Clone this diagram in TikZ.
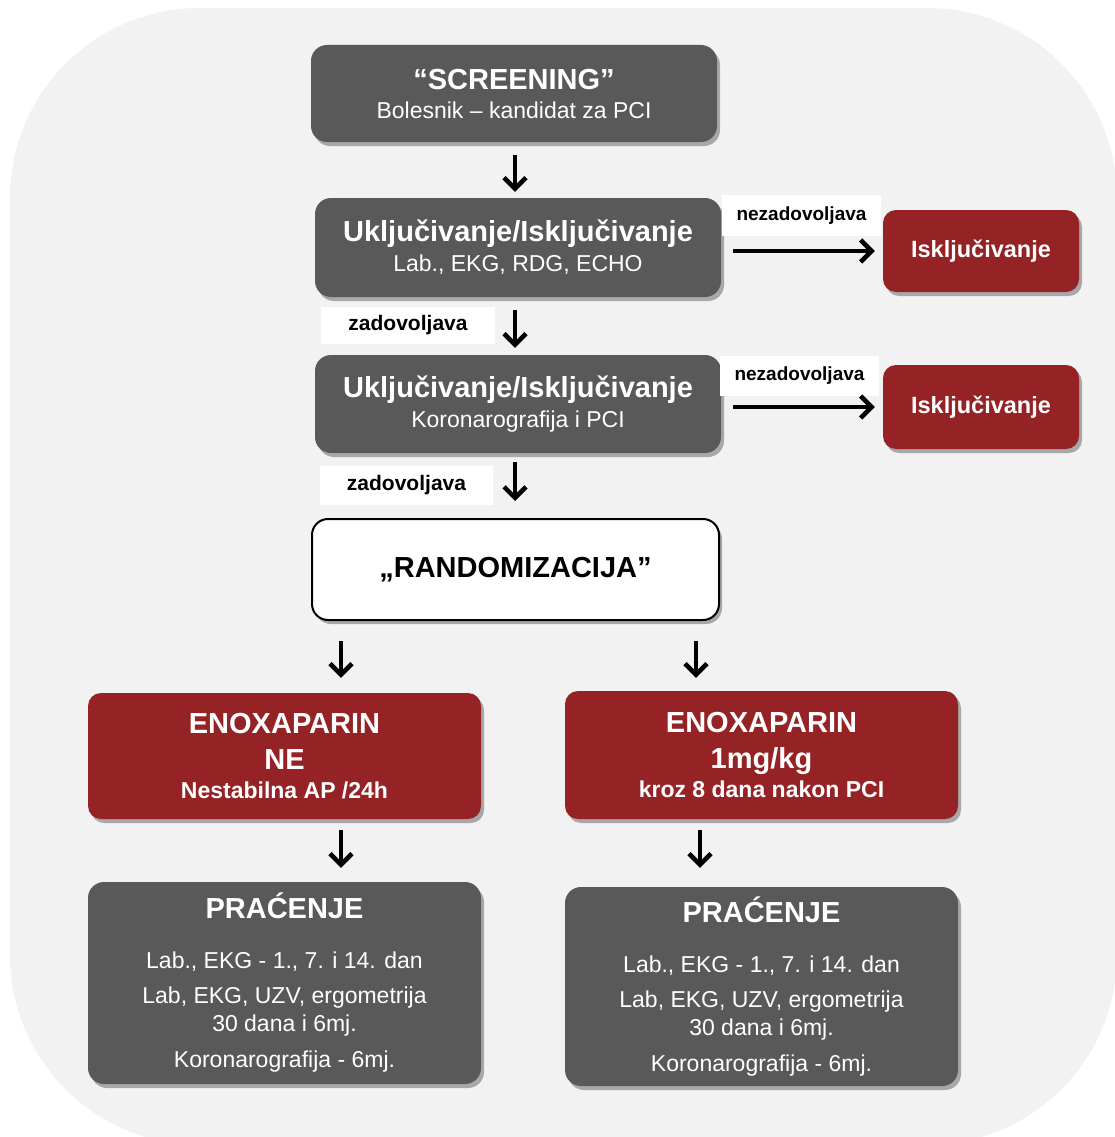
\documentclass[tikz,border=0pt]{standalone}
\usepackage{fontspec}
\setmainfont{Liberation Sans}
\usetikzlibrary{arrows.meta,shadows}
\definecolor{dgrey}{HTML}{595959}
\definecolor{dred}{HTML}{952224}
\definecolor{bggrey}{HTML}{F2F2F2}
\newcommand\bigt[1]{{\bfseries\fontsize{29}{28}\selectfont #1}}
\begin{document}
\begin{tikzpicture}[x=1pt,y=-1pt,
  shad/.style={drop shadow={shadow xshift=3pt,shadow yshift=-4pt,opacity=0.3,fill=black}},
  gbox/.style={shad,rounded corners=16pt,fill=dgrey,text=white,align=center,inner sep=0pt,font=\fontsize{23}{28}\selectfont},
  rbox/.style={gbox,rounded corners=13pt,fill=dred,font=\bfseries\fontsize{23}{28}\selectfont},
  wbox/.style={shad,rounded corners=16pt,fill=white,draw=black,line width=2pt,align=center,inner sep=0pt},
  lbl/.style={fill=white,inner sep=0pt,font=\bfseries\fontsize{19}{20}\selectfont},
  arr/.style={line width=4.5pt,-{Straight Barb[length=11pt,width=22pt]}}]
\useasboundingbox (0,0) rectangle (1115,1137);
\fill[bggrey,rounded corners=190pt] (10,8) rectangle (1117,1145);

\node[gbox,minimum width=406pt,minimum height=97pt] (scr) at (514,93.5)
  {\bigt{“SCREENING”}\\[1pt] Bolesnik – kandidat za PCI};
\node[gbox,minimum width=406pt,minimum height=99pt] (b2) at (518,247.5)
  {\bigt{Uključivanje/Isključivanje}\\[2pt] Lab., EKG, RDG, ECHO};
\node[gbox,minimum width=406pt,minimum height=98pt] (b3) at (518,404)
  {\bigt{Uključivanje/Isključivanje}\\[2pt] Koronarografija i PCI};
\node[rbox,minimum width=196pt,minimum height=82pt,font=\bfseries\fontsize{23.5}{28}\selectfont] (ex1) at (981,251) {Isključivanje};
\node[rbox,minimum width=196pt,minimum height=84pt,font=\bfseries\fontsize{23.5}{28}\selectfont] (ex2) at (981,407) {Isključivanje};
\node[wbox,minimum width=407pt,minimum height=101pt] (rand) at (515.5,569.5) {\bigt{„RANDOMIZACIJA”}};
\node[rbox,minimum width=393pt,minimum height=126pt] (lred) at (284.5,756)
  {\bigt{ENOXAPARIN}\\[8pt]\bigt{NE}\\[1pt] Nestabilna AP /24h};
\node[rbox,minimum width=393pt,minimum height=128pt] (rred) at (761.5,755)
  {\bigt{ENOXAPARIN}\\[8pt]\bigt{1mg/kg}\\[1pt] kroz 8 dana nakon PCI};
\node[gbox,minimum width=393pt,minimum height=202pt] (lg) at (284.5,983)
  {\bigt{PRAĆENJE}\\[22pt] Lab., EKG - 1., 7. i 14. dan\\[7pt] Lab, EKG, UZV, ergometrija\\[0pt] 30 dana i 6mj.\\[8pt] Koronarografija - 6mj.};
\node[gbox,minimum width=393pt,minimum height=199pt] (rg) at (761.5,986.5)
  {\bigt{PRAĆENJE}\\[22pt] Lab., EKG - 1., 7. i 14. dan\\[7pt] Lab, EKG, UZV, ergometrija\\[0pt] 30 dana i 6mj.\\[8pt] Koronarografija - 6mj.};

\node[lbl,minimum width=159pt,minimum height=41pt] (l1) at (801.5,215.5) {nezadovoljava};
\node[lbl,minimum width=159pt,minimum height=40pt] (l3) at (799.5,376) {nezadovoljava};
\node[lbl,minimum width=174pt,minimum height=37pt,font=\bfseries\fontsize{21}{22}\selectfont] (l2) at (408,325.5) {zadovoljava};
\node[lbl,minimum width=173pt,minimum height=39pt,font=\bfseries\fontsize{21}{22}\selectfont] (l4) at (406.5,485.5) {zadovoljava};

\coordinate (lx) at (341,0);
\coordinate (rx) at (696,0);
\coordinate (rx2) at (700,0);
\coordinate (cx) at (515,0);

\draw[arr,shorten <=13pt,shorten >=6pt] (scr.south -| cx) -- (b2.north -| cx);
\draw[arr,shorten <=13pt,shorten >=7pt] (b2.south -| cx) -- (b3.north -| cx);
\draw[arr,shorten <=9pt,shorten >=17pt] (b3.south -| cx) -- (rand.north -| cx);
\draw[arr,shorten <=12pt,shorten >=8pt] (ex1.west -| b2.east) -- (ex1.west);
\draw[arr,shorten <=12pt,shorten >=8pt] (ex2.west -| b3.east) -- (ex2.west);
\draw[arr,shorten <=20pt,shorten >=15pt] (rand.south -| lx) -- (lred.north -| lx);
\draw[arr,shorten <=20pt,shorten >=13pt] (rand.south -| rx) -- (rred.north -| rx);
\draw[arr,shorten <=11pt,shorten >=14pt] (lred.south -| lx) -- (lg.north -| lx);
\draw[arr,shorten <=11pt,shorten >=19pt] (rred.south -| rx2) -- (rg.north -| rx2);
\end{tikzpicture}
\end{document}
